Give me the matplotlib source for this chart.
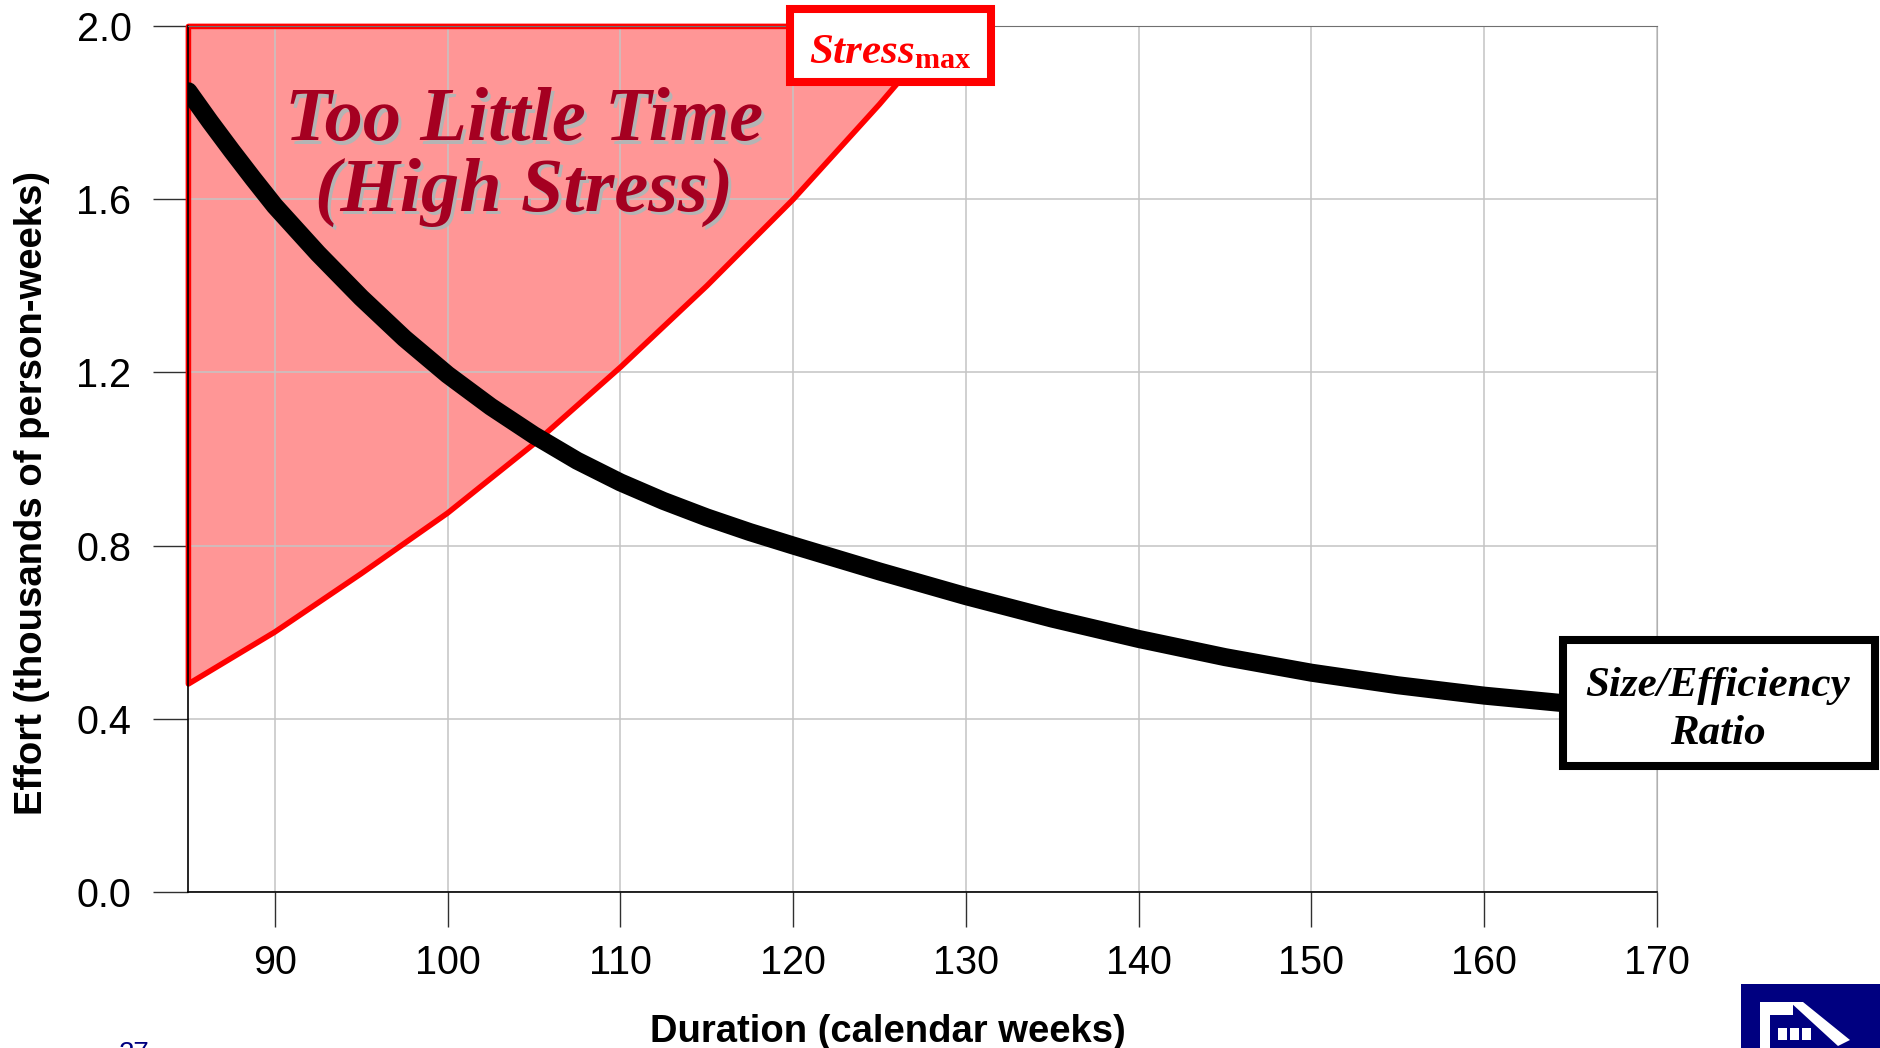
import matplotlib
matplotlib.use("Agg")
import matplotlib.pyplot as plt
from matplotlib.patches import Rectangle
from matplotlib.transforms import offset_copy

# black curve: effort vs duration
weeks = [85, 86.25, 87.5, 88.75, 90, 92.5, 95, 97.5, 100, 102.5, 105, 107.5,
         110, 112.5, 115, 117.5, 120, 125, 130, 135, 140, 145, 150, 155, 160, 165]
effort = [1.85, 1.78, 1.713, 1.648, 1.585, 1.475, 1.373, 1.279, 1.195, 1.121,
          1.055, 0.996, 0.946, 0.903, 0.865, 0.831, 0.80, 0.740, 0.683, 0.631,
          0.584, 0.542, 0.506, 0.477, 0.453, 0.434]

# red Stress_max boundary
stress_weeks = [85, 90, 95, 100, 105, 110, 115, 120, 125, 128, 129]
stress_effort = [0.48, 0.60, 0.735, 0.875, 1.035, 1.212, 1.40, 1.60, 1.82, 1.96, 2.0]

xticks = [90, 100, 110, 120, 130, 140, 150, 160, 170]
yticks = [0.0, 0.4, 0.8, 1.2, 1.6, 2.0]

plt.rcParams['font.family'] = 'Liberation Sans'
plt.rcParams['mathtext.fontset'] = 'custom'
plt.rcParams['mathtext.rm'] = 'Liberation Serif:bold'
plt.rcParams['mathtext.it'] = 'Liberation Serif:italic:bold'
plt.rcParams['mathtext.bf'] = 'Liberation Serif:bold'

W, H = 1881, 1048
fig = plt.figure(figsize=(W / 100, H / 100), dpi=100)
ax = fig.add_axes([188.4 / W, 1 - 891.6 / H, 1468.6 / W, 865.2 / H])

# shaded "too little time" region and its red outline
ax.fill_between(stress_weeks, stress_effort, 2.0, facecolor='#ff9696',
                edgecolor='none', zorder=0.3)
ax.fill_between(stress_weeks, stress_effort, 2.0, facecolor='none',
                edgecolor='#ff0000', linewidth=4, zorder=2, clip_on=False)
ax.plot(weeks, effort, color='black', lw=13, solid_capstyle='round',
        solid_joinstyle='round', zorder=3)

ax.set_xlim(85, 170)
ax.set_ylim(0, 2.0)
ax.set_xticks(xticks)
ax.set_yticks(yticks)
ax.yaxis.set_major_formatter('{x:.1f}')
ax.set_axisbelow(True)
ax.grid(True, color='#c4c4c4', lw=1.1)
ax.tick_params(axis='both', direction='out', length=25, width=1,
               color='#303030', labelsize=28.5)
ax.tick_params(axis='x', pad=13)
ax.tick_params(axis='y', pad=16)
for s in ['left', 'bottom']:
    ax.spines[s].set_color('black')
    ax.spines[s].set_linewidth(1.2)
ax.spines['top'].set_color('#707070')
ax.spines['right'].set_color('#b0b0b0')

ax.set_xlabel('Duration (calendar weeks)', fontsize=27.5, fontweight='bold')
ax.set_ylabel('Effort (thousands of person-weeks)', fontsize=27.5, fontweight='bold')
ax.xaxis.set_label_coords(0.476, -0.141)
ax.yaxis.set_label_coords(-0.094, 0.461)

title_font = dict(ha='center', va='center', fontsize=55, family='Liberation Serif',
                  style='italic', fontweight='bold')
shadow_tr = offset_copy(ax.transData, fig=fig, x=2.5, y=-2.5, units='points')
for txt, y in [('Too Little Time', 1.78), ('(High Stress)', 1.617)]:
    ax.text(104.4, y, txt, color='#b4b4b4', transform=shadow_tr, zorder=4, **title_font)
    ax.text(104.4, y, txt, color='#a50021', zorder=4.1, **title_font)

# Stress_max box
fig.add_artist(Rectangle((790 / W, 1 - 82 / H), 201 / W, 73 / H,
                         transform=fig.transFigure, facecolor='white',
                         edgecolor='#ff0000', lw=5.8, zorder=5))
fig.text(890 / W, 1 - 63.6 / H, r'$\mathit{Stress}_{\mathrm{max}}$', ha='center',
         va='baseline', fontsize=31, color='#ff0000', zorder=6)

# Size/Efficiency box
fig.add_artist(Rectangle((1563 / W, 1 - 766 / H), 312 / W, 126 / H,
                         transform=fig.transFigure, facecolor='white',
                         edgecolor='black', lw=5.8, zorder=5))
for txt, yb in [('Size/Efficiency', 696), ('Ratio', 744)]:
    fig.text(1718 / W, 1 - yb / H, txt, ha='center', va='baseline', fontsize=31,
             family='Liberation Serif', style='italic', fontweight='bold',
             color='black', zorder=6)

# logo in the corner
fig.add_artist(Rectangle((1741 / W, 0), 140 / W, 64 / H, transform=fig.transFigure,
                         facecolor='#000080', edgecolor='none', zorder=5))
for x0, y0, w, h in [(1760, 1002, 33, 13), (1760, 1002, 10, 46),
                     (1778, 1028, 9, 12), (1790, 1028, 9, 12), (1802, 1028, 9, 12)]:
    fig.add_artist(Rectangle((x0 / W, 1 - (y0 + h) / H), w / W, h / H,
                             transform=fig.transFigure, facecolor='white',
                             edgecolor='none', zorder=6))
fig.add_artist(plt.Polygon([(1790 / W, 1 - 1002 / H), (1803 / W, 1 - 1002 / H),
                            (1850 / W, 1 - 1040 / H), (1838 / W, 1 - 1046 / H)],
                           closed=True, transform=fig.transFigure,
                           facecolor='white', edgecolor='none', zorder=6))

fig.text(134 / W, 1 - 1041 / H, '27', ha='center', va='top', fontsize=20,
         color='#000080')

fig.savefig('out.png', dpi=100)
